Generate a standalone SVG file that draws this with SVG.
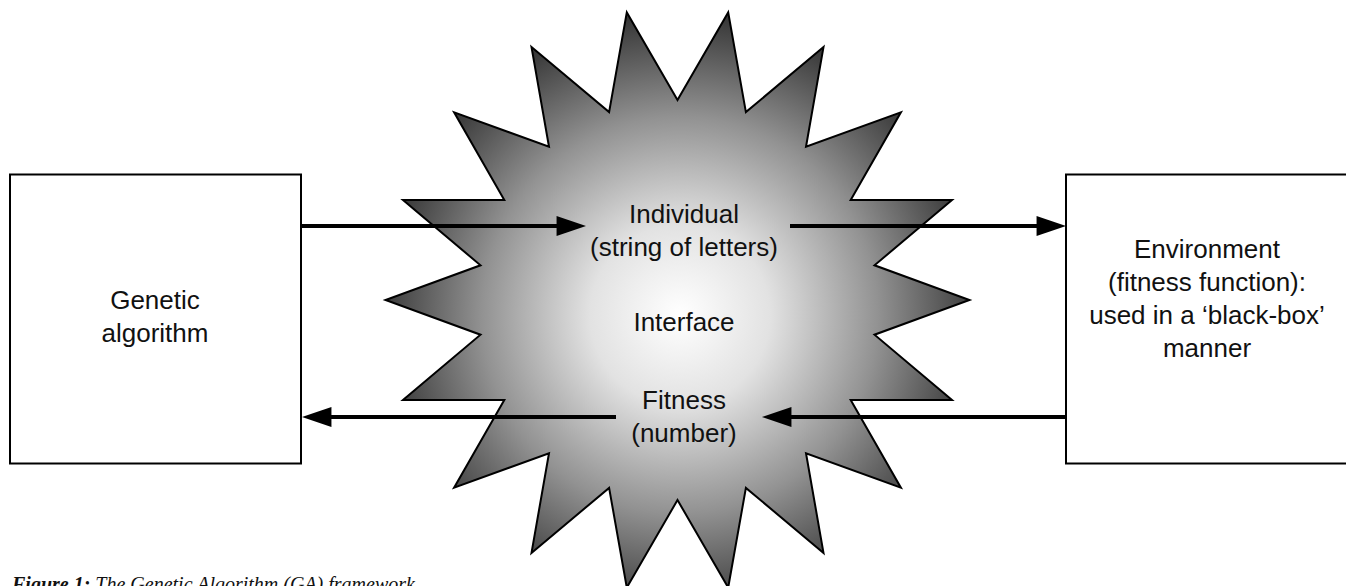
<svg xmlns="http://www.w3.org/2000/svg" width="1346" height="586" viewBox="0 0 1346 586">
<style>
.box{fill:#fff;stroke:#000;stroke-width:2}
.t{font-family:"Liberation Sans",Arial,sans-serif;font-size:26px;fill:#111;text-anchor:middle}
.conn{stroke:#000;stroke-width:4;fill:none;marker-end:url(#ah)}
.cap{font-family:"Liberation Serif","Times New Roman",serif;font-style:italic;font-size:20px;fill:#111}
</style>
<defs>
<radialGradient id="g" gradientUnits="userSpaceOnUse" cx="680" cy="315" r="300">
<stop offset="0" stop-color="#ffffff"/>
<stop offset="0.3" stop-color="#e2e2e2"/>
<stop offset="0.66" stop-color="#929292"/>
<stop offset="1" stop-color="#383838"/>
</radialGradient>
<marker id="ah" markerUnits="userSpaceOnUse" markerWidth="30" markerHeight="20" viewBox="0 0 28 19" refX="8" refY="9.5" orient="auto">
<path d="M0,0 L28,9.5 L0,19 z" fill="#000"/>
</marker>
</defs>
<g id="interface">
<polygon id="star" fill="url(#g)" stroke="#000" stroke-width="2" stroke-linejoin="miter" points="677.5,100.0 626.8,12.4 609.1,112.1 531.5,47.1 549.0,146.8 454.1,112.3 504.3,200.0 403.0,200.0 480.5,265.3 385.5,300.0 480.5,334.7 403.0,400.0 504.3,400.0 454.1,487.7 549.0,453.2 531.5,552.9 609.1,487.9 626.8,587.6 677.5,500.0 728.2,587.6 745.9,487.9 823.5,552.9 806.0,453.2 900.9,487.7 850.7,400.0 952.0,400.0 874.5,334.7 969.5,300.0 874.5,265.3 952.0,200.0 850.7,200.0 900.9,112.3 806.0,146.8 823.5,47.1 745.9,112.1 728.2,12.4"/>
<text class="t" x="684" y="223">Individual</text>
<text class="t" x="684" y="256">(string of letters)</text>
<text class="t" x="684" y="331">Interface</text>
<text class="t" x="684" y="409">Fitness</text>
<text class="t" x="684" y="442">(number)</text>
</g>
<g id="ga">
<rect class="box" x="10" y="174.5" width="291" height="289"/>
<text class="t" x="155" y="309">Genetic</text>
<text class="t" x="155" y="342">algorithm</text>
</g>
<g id="environment">
<rect class="box" x="1066" y="174.5" width="300" height="289"/>
<text class="t" x="1207" y="258">Environment</text>
<text class="t" x="1207" y="291">(fitness function):</text>
<text class="t" x="1207" y="324">used in a ‘black-box’</text>
<text class="t" x="1207" y="357">manner</text>
</g>
<g id="connectors">
<line class="conn" x1="302" y1="226" x2="565" y2="226"/>
<line class="conn" x1="790" y1="226" x2="1045" y2="226"/>
<line class="conn" x1="1065" y1="417" x2="783" y2="417"/>
<line class="conn" x1="616" y1="417" x2="323" y2="417"/>
</g>
<text class="cap" x="12" y="591"><tspan font-weight="bold">Figure 1:</tspan> The Genetic Algorithm (GA) framework</text>
</svg>
